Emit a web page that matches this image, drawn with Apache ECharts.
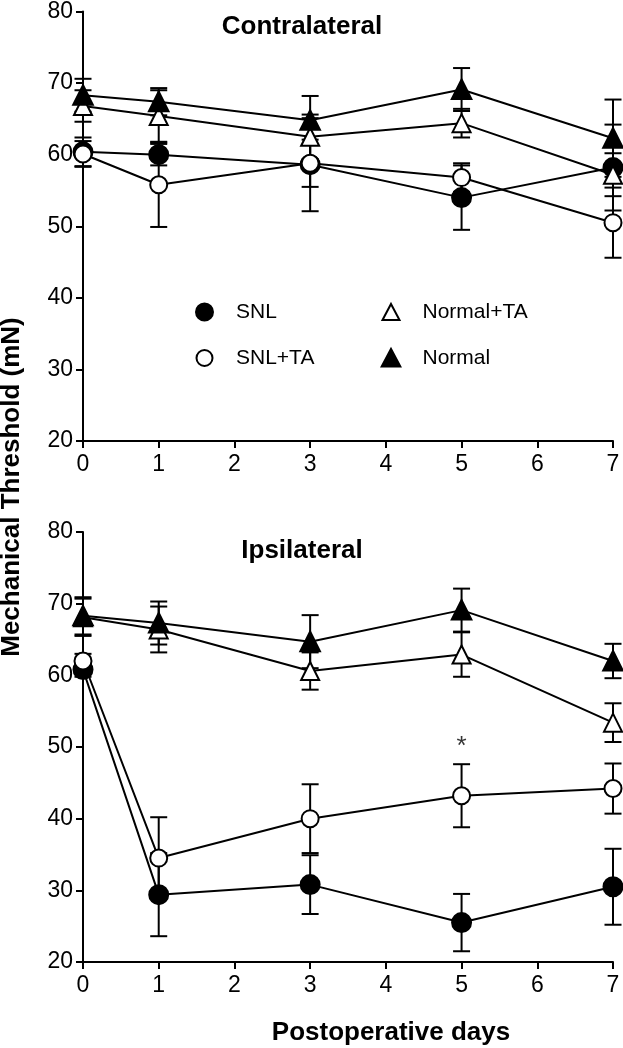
<!DOCTYPE html>
<html>
<head>
<meta charset="utf-8">
<script src="https://cdn.jsdelivr.net/npm/echarts@6/dist/echarts.min.js"></script>
<style>
  html, body { margin: 0; padding: 0; background: #fff; }
  #chart { width: 623px; height: 1048px; }
</style>
</head>
<body>
<div id="chart"></div>
<script>
// postoperative days
const days = [0, 1, 3, 5, 7]

// Contralateral (top panel): means and error (mN)
const contraSNL = [60.4, 60.0, 58.6, 54.0, 58.2]
const contraSNLErr = [2.0, 1.5, 6.5, 4.5, 6.0]
const contraSNLTA = [60.1, 55.8, 58.8, 56.8, 50.5]
const contraSNLTAErr = [1.8, 5.9, 3.3, 2.0, 4.9]
const contraNormalTA = [66.8, 65.4, 62.5, 64.4, 57.2]
const contraNormalTAErr = [2.2, 3.6, 3.1, 2.0, 3.0]
const contraNormal = [68.3, 67.4, 64.8, 69.1, 62.3]
const contraNormalErr = [2.3, 1.9, 3.4, 3.0, 5.4]

// Ipsilateral (bottom panel)
const ipsiSNL = [60.8, 29.4, 30.8, 25.5, 30.5]
const ipsiSNLErr = [1.0, 5.8, 4.1, 4.0, 5.3]
const ipsiSNLTA = [62.0, 34.5, 40.0, 43.2, 44.2]
const ipsiSNLTAErr = [1.0, 5.7, 4.8, 4.4, 3.5]
const ipsiNormalTA = [68.1, 66.4, 60.6, 62.9, 53.4]
const ipsiNormalTAErr = [2.6, 3.2, 2.6, 3.1, 2.7]
const ipsiNormal = [68.3, 67.3, 64.7, 69.1, 62.0]
const ipsiNormalErr = [2.6, 3.0, 3.7, 3.0, 2.4]

// significance mark (SNL+TA vs SNL, ipsilateral)
const sigDays = [5]
const sigValues = [47.6]

// axis ranges
const xMin = 0, xMax = 7, xStep = 1
const yMin = 20, yMax = 80, yStep = 10

const FONT = 'Liberation Sans, Arial, sans-serif'

const pairs = (ys) => days.map((d, i) => [d, ys[i]])
const errPairs = (ys, es) => days.map((d, i) => [d, ys[i] - es[i], ys[i] + es[i]])

const symbols = {
  'SNL': { symbol: 'circle', size: 18 },
  'SNL+TA': { symbol: 'emptyCircle', size: 17 },
  'Normal+TA': { symbol: 'emptyTriangle', size: 18 },
  'Normal': { symbol: 'triangle', size: 18 }
}

const renderErr = (params, api) => {
  const x = api.value(0)
  const lo = api.coord([x, api.value(1)])
  const hi = api.coord([x, api.value(2)])
  const w = 8.5
  const style = { stroke: '#000', lineWidth: 2 }
  return {
    type: 'group',
    children: [
      { type: 'line', shape: { x1: lo[0], y1: lo[1], x2: hi[0], y2: hi[1] }, style },
      { type: 'line', shape: { x1: lo[0] - w, y1: lo[1], x2: lo[0] + w, y2: lo[1] }, style },
      { type: 'line', shape: { x1: hi[0] - w, y1: hi[1], x2: hi[0] + w, y2: hi[1] }, style }
    ]
  }
}

const makeSeries = (idx, name, ys, es) => {
  const s = symbols[name]
  return [
    {
      type: 'custom',
      name: name + ' err',
      xAxisIndex: idx,
      yAxisIndex: idx,
      renderItem: renderErr,
      encode: { x: 0, y: [1, 2] },
      data: errPairs(ys, es),
      z: 1,
      silent: true
    },
    {
      type: 'line',
      name: name,
      xAxisIndex: idx,
      yAxisIndex: idx,
      data: pairs(ys),
      symbol: s.symbol,
      symbolSize: s.size,
      showAllSymbol: true,
      lineStyle: { color: '#000', width: 2 },
      itemStyle: { color: '#000', borderColor: '#000', borderWidth: 3 },
      z: 3,
      animation: false
    }
  ]
}

const xAxisBase = {
  type: 'value',
  min: xMin,
  max: xMax,
  interval: xStep,
  axisLine: { lineStyle: { color: '#000', width: 2 } },
  axisTick: { length: 7, lineStyle: { color: '#000', width: 2 } },
  axisLabel: { color: '#000', fontSize: 23, fontFamily: FONT, margin: 12 },
  splitLine: { show: false }
}
const yAxisBase = {
  type: 'value',
  min: yMin,
  max: yMax,
  interval: yStep,
  axisLine: { show: true, lineStyle: { color: '#000', width: 2 } },
  axisTick: { show: true, length: 7, lineStyle: { color: '#000', width: 2 } },
  axisLabel: { color: '#000', fontSize: 23, fontFamily: FONT, margin: 10 },
  splitLine: { show: false }
}

const legendBase = {
  orient: 'vertical',
  top: 301,
  padding: 0,
  itemGap: 24,
  itemWidth: 17,
  itemHeight: 16,
  selectedMode: false,
  itemStyle: { borderWidth: 3 },
  textStyle: { color: '#000', fontSize: 21, fontFamily: FONT, lineHeight: 22, padding: [0, 0, 0, 18] }
}

const option = {
  animation: false,
  backgroundColor: '#fff',
  title: [
    {
      text: 'Contralateral', left: 302, top: 14, padding: 0, textAlign: 'center',
      textStyle: { fontSize: 26, fontWeight: 'bold', fontFamily: FONT, color: '#000' }
    },
    {
      text: 'Ipsilateral', left: 302, top: 538, padding: 0, textAlign: 'center',
      textStyle: { fontSize: 26, fontWeight: 'bold', fontFamily: FONT, color: '#000' }
    }
  ],
  legend: [
    Object.assign({}, legendBase, {
      left: 195,
      data: [{ name: 'SNL', icon: 'circle' }, { name: 'SNL+TA', icon: 'emptyCircle' }]
    }),
    Object.assign({}, legendBase, {
      left: 381,
      data: [{ name: 'Normal+TA', icon: 'emptyTriangle' }, { name: 'Normal', icon: 'triangle' }]
    })
  ],
  grid: [
    { left: 83, right: 10, top: 10, height: 431 },
    { left: 83, right: 10, top: 532, height: 430 }
  ],
  xAxis: [
    Object.assign({ gridIndex: 0 }, xAxisBase),
    Object.assign({ gridIndex: 1 }, xAxisBase)
  ],
  yAxis: [
    Object.assign({ gridIndex: 0 }, yAxisBase),
    Object.assign({ gridIndex: 1 }, yAxisBase)
  ],
  graphic: [
    {
      type: 'text', x: 12, y: 487, rotation: Math.PI / 2,
      style: {
        text: 'Mechanical Threshold (mN)', fill: '#000',
        font: 'bold 26px ' + FONT, textAlign: 'center', textVerticalAlign: 'middle'
      }
    },
    {
      type: 'text', x: 391, y: 1033,
      style: {
        text: 'Postoperative days', fill: '#000',
        font: 'bold 26px ' + FONT, textAlign: 'center', textVerticalAlign: 'middle'
      }
    }
  ],
  series: [
    ...makeSeries(0, 'SNL', contraSNL, contraSNLErr),
    ...makeSeries(0, 'SNL+TA', contraSNLTA, contraSNLTAErr),
    ...makeSeries(0, 'Normal+TA', contraNormalTA, contraNormalTAErr),
    ...makeSeries(0, 'Normal', contraNormal, contraNormalErr),
    ...makeSeries(1, 'SNL', ipsiSNL, ipsiSNLErr),
    ...makeSeries(1, 'SNL+TA', ipsiSNLTA, ipsiSNLTAErr),
    ...makeSeries(1, 'Normal+TA', ipsiNormalTA, ipsiNormalTAErr),
    ...makeSeries(1, 'Normal', ipsiNormal, ipsiNormalErr),
    {
      type: 'scatter',
      name: 'sig',
      xAxisIndex: 1,
      yAxisIndex: 1,
      symbolSize: 0,
      data: sigDays.map((d, i) => [d, sigValues[i]]),
      label: {
        show: true, position: 'top', distance: 4, formatter: '*',
        color: '#000', fontSize: 26, fontFamily: FONT
      },
      silent: true
    }
  ]
}

const myChart = echarts.init(document.getElementById('chart'))
option && myChart.setOption(option)
</script>
</body>
</html>
